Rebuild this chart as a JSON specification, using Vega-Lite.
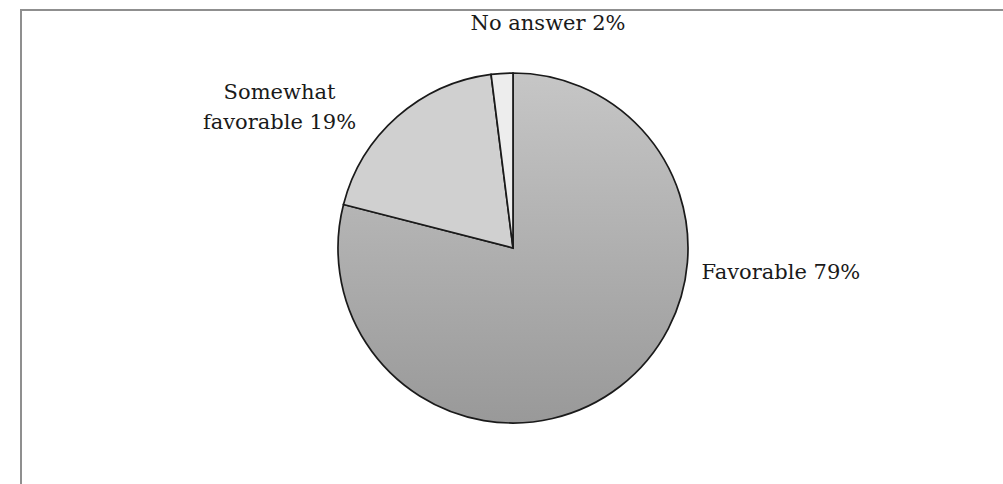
{
  "$schema": "https://vega.github.io/schema/vega-lite/v6.json",
  "width": 984,
  "height": 476,
  "autosize": "none",
  "padding": {"left": 21, "top": 10, "right": -2, "bottom": -2},
  "background": "white",
  "data": {
    "values": [
      {"answer": "Favorable", "pct": 79, "label": "Favorable 79%", "order": 1},
      {"answer": "Somewhat favorable", "pct": 19, "label": ["Somewhat", "favorable 19%"], "order": 2},
      {"answer": "No answer", "pct": 2, "label": "No answer 2%", "order": 3}
    ]
  },
  "layer": [
    {
      "data": {"values": [{"frame": 1}]},
      "mark": {"type": "rect", "fill": null, "fillOpacity": 0, "stroke": "#8f8f8f", "strokeWidth": 2},
      "encoding": {}
    },
    {
      "mark": {"type": "arc", "outerRadius": 175, "stroke": "#1a1a1a", "strokeWidth": 1.7},
      "encoding": {
        "theta": {"field": "pct", "type": "quantitative", "stack": true},
        "order": {"field": "order", "type": "quantitative"},
        "fill": {
          "condition": [
            {"test": "datum.answer === 'Favorable'", "value": {"gradient": "linear", "x1": 0, "y1": 0, "x2": 0, "y2": 1, "stops": [{"offset": 0, "color": "#c6c6c6"}, {"offset": 1, "color": "#999999"}]}},
            {"test": "datum.answer === 'Somewhat favorable'", "value": "#d0d0d0"}
          ],
          "value": "#ededed"
        }
      }
    },
    {
      "mark": {"type": "text", "radius": 269, "thetaOffset": -0.819, "font": "DejaVu Serif", "fontSize": 21, "color": "#1a1a1a", "align": "center", "baseline": "middle"},
      "encoding": {
        "theta": {"field": "pct", "type": "quantitative", "stack": true},
        "order": {"field": "order", "type": "quantitative"},
        "text": {"condition": {"test": "datum.answer === 'Favorable'", "field": "label"}, "value": ""}
      }
    },
    {
      "mark": {"type": "text", "radius": 280, "thetaOffset": -0.2635, "font": "DejaVu Serif", "fontSize": 21, "lineHeight": 30, "color": "#1a1a1a", "align": "center", "baseline": "middle"},
      "encoding": {
        "theta": {"field": "pct", "type": "quantitative", "stack": true},
        "order": {"field": "order", "type": "quantitative"},
        "text": {"condition": {"test": "datum.answer === 'Somewhat favorable'", "field": "label"}, "value": ""}
      }
    },
    {
      "mark": {"type": "text", "radius": 227, "thetaOffset": 0.218, "font": "DejaVu Serif", "fontSize": 21, "color": "#1a1a1a", "align": "center", "baseline": "middle"},
      "encoding": {
        "theta": {"field": "pct", "type": "quantitative", "stack": true},
        "order": {"field": "order", "type": "quantitative"},
        "text": {"condition": {"test": "datum.answer === 'No answer'", "field": "label"}, "value": ""}
      }
    }
  ]
}
